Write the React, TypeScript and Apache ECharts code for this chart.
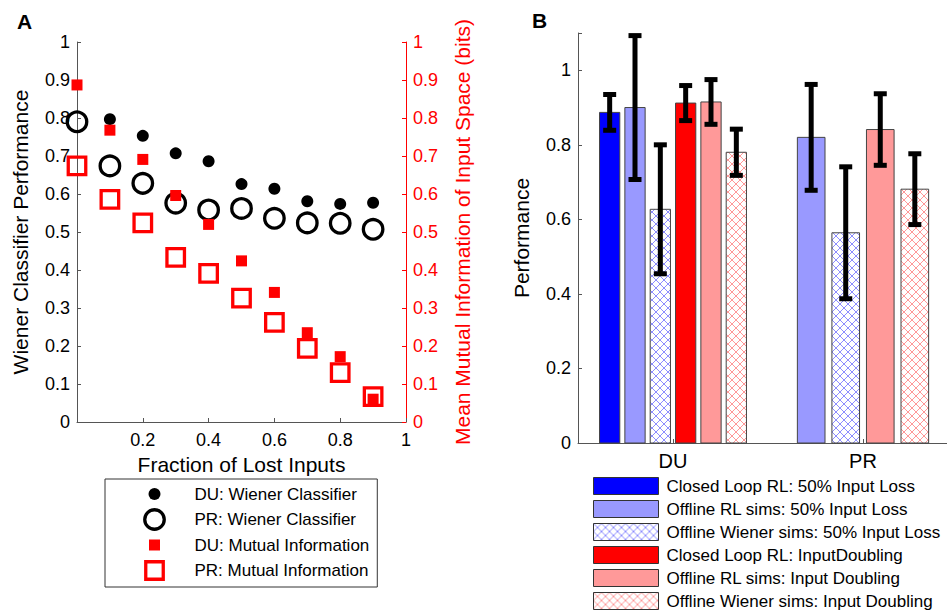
import React, { useEffect, useRef } from 'react';
import * as echarts from 'echarts';

// ---------- Panel A data ----------
const lostFraction = [0, 0.1, 0.2, 0.3, 0.4, 0.5, 0.6, 0.7, 0.8, 0.9];
const duWiener = [null, 0.797, 0.753, 0.707, 0.686, 0.626, 0.614, 0.581, 0.574, 0.577];
const prWiener = [0.79, 0.674, 0.628, 0.576, 0.558, 0.562, 0.536, 0.524, 0.523, 0.507];
const duMutualInfo = [0.887, 0.768, 0.691, 0.596, 0.52, 0.424, 0.341, 0.235, 0.172, 0.06];
const prMutualInfo = [0.674, 0.586, 0.524, 0.433, 0.391, 0.326, 0.262, 0.194, 0.13, 0.067];
const scatterNames = [
  'DU: Wiener Classifier',
  'PR: Wiener Classifier',
  'DU: Mutual Information',
  'PR: Mutual Information',
];

// ---------- Panel B data ----------
const groups = ['DU', 'PR'];
const barNames = [
  'Closed Loop RL: 50% Input Loss',
  'Offline RL sims: 50% Input Loss',
  'Offline Wiener sims: 50% Input Loss',
  'Closed Loop RL: InputDoubling',
  'Offline RL sims: Input Doubling',
  'Offline Wiener sims: Input Doubling',
];
const closedLoopLoss = [0.887, null];
const offlineRLLoss = [0.9, 0.82];
const offlineWienerLoss = [0.627, 0.564];
const closedLoopDoubling = [0.912, null];
const offlineRLDoubling = [0.915, 0.841];
const offlineWienerDoubling = [0.78, 0.681];
const closedLoopLossErr = [0.048, null];
const offlineRLLossErr = [0.193, 0.142];
const offlineWienerLossErr = [0.173, 0.177];
const closedLoopDoublingErr = [0.047, null];
const offlineRLDoublingErr = [0.06, 0.096];
const offlineWienerDoublingErr = [0.062, 0.095];

const barMeans = [closedLoopLoss, offlineRLLoss, offlineWienerLoss, closedLoopDoubling, offlineRLDoubling, offlineWienerDoubling];
const barErrs = [closedLoopLossErr, offlineRLLossErr, offlineWienerLossErr, closedLoopDoublingErr, offlineRLDoublingErr, offlineWienerDoublingErr];

const FONT = '"Liberation Sans", Arial, Helvetica, sans-serif';

function hatch(color: string) {
  const c = document.createElement('canvas');
  c.width = 8;
  c.height = 8;
  const ctx = c.getContext('2d')!;
  ctx.fillStyle = '#ffffff';
  ctx.fillRect(0, 0, 8, 8);
  ctx.strokeStyle = color;
  ctx.lineWidth = 0.7;
  ctx.beginPath();
  ctx.moveTo(0, 0);
  ctx.lineTo(8, 8);
  ctx.moveTo(8, 0);
  ctx.lineTo(0, 8);
  ctx.stroke();
  return { image: c, repeat: 'repeat', imageWidth: 8, imageHeight: 8 } as any;
}

export default function App() {
  const ref = useRef<HTMLDivElement>(null);

  useEffect(() => {
    if (!ref.current) return;
    const chart = echarts.init(ref.current, null, { renderer: 'svg' });

    const blueHatch = hatch('rgba(50,50,255,0.8)');
    const redHatch = hatch('rgba(255,70,70,0.8)');
    const barFills: any[] = ['#0000ff', '#9999ff', blueHatch, '#ff0000', '#ff9999', redHatch];

    const pairs = (ys: (number | null)[]) =>
      lostFraction.map((x, i) => [x, ys[i]]).filter((p) => p[1] != null);

    const makeRenderItem = (si: number) => (params: any, api: any) => {
      const cat = api.value(0);
      const mean = api.value(1);
      const err = api.value(2);
      const present = barMeans.map((m) => m[cat] != null);
      const n = present.filter(Boolean).length;
      let slot = 0;
      for (let j = 0; j < si; j++) if (present[j]) slot++;
      const band = api.size([1, 0])[0];
      const groupW = Math.min(0.8, n / (n + 1.5));
      const spacing = (groupW / n) * band;
      const barW = spacing * 0.8;
      const base = api.coord([cat, 0]);
      const cx = base[0] + (slot - (n - 1) / 2) * spacing;
      const yTop = api.coord([cat, mean])[1];
      const yHi = api.coord([cat, mean + err])[1];
      const yLo = api.coord([cat, mean - err])[1];
      return {
        type: 'group',
        children: [
          {
            type: 'rect',
            shape: { x: cx - barW / 2, y: yTop, width: barW, height: base[1] - yTop },
            style: { fill: barFills[si], stroke: '#444', lineWidth: 1 },
          },
          { type: 'rect', shape: { x: cx - 2.5, y: yHi, width: 5, height: yLo - yHi }, style: { fill: '#000' } },
          { type: 'rect', shape: { x: cx - 6.5, y: yHi - 2.5, width: 13, height: 5 }, style: { fill: '#000' } },
          { type: 'rect', shape: { x: cx - 6.5, y: yLo - 2.5, width: 13, height: 5 }, style: { fill: '#000' } },
        ],
      };
    };

    const barSeries = barNames.map((name, si) => ({
      type: 'custom',
      name,
      xAxisIndex: 1,
      yAxisIndex: 2,
      encode: { x: 0, y: 1 },
      itemStyle: { color: typeof barFills[si] === 'string' ? barFills[si] : '#fff' },
      renderItem: makeRenderItem(si),
      data: groups
        .map((g, ci) => [ci, barMeans[si][ci], barErrs[si][ci]])
        .filter((d) => d[1] != null),
    }));

    const axisColor = '#555';
    const fmt = (v: number) => String(+v.toFixed(2));

    const iconDot = 'path://M0,0M46,22M17,11A6,6,0,1,1,5,11A6,6,0,1,1,17,11Z';
    const iconRing = 'path://M0,0M46,22M20.75,11A9.75,9.75,0,1,1,1.25,11A9.75,9.75,0,1,1,20.75,11Z';
    const iconSq = 'path://M0,0M46,22M5.5,5.5L16.5,5.5L16.5,16.5L5.5,16.5Z';
    const iconOpenSq = 'path://M0,0M46,22M2.25,2.25L19.75,2.25L19.75,19.75L2.25,19.75Z';

    chart.setOption({
      animation: false,
      backgroundColor: '#ffffff',
      textStyle: { fontFamily: FONT, color: '#000' },
      title: [
        { text: 'A', left: 17, top: 11, padding: 0, textStyle: { fontFamily: FONT, fontSize: 21, fontWeight: 'bold', color: '#000' } },
        { text: 'B', left: 532, top: 10, padding: 0, textStyle: { fontFamily: FONT, fontSize: 21, fontWeight: 'bold', color: '#000' } },
      ],
      grid: [
        { left: 77, top: 42, width: 329, height: 380, outerBoundsMode: 'none', containLabel: false },
        { left: 578, top: 33, width: 380, height: 410, outerBoundsMode: 'none', containLabel: false },
      ],
      xAxis: [
        {
          type: 'value',
          gridIndex: 0,
          min: 0,
          max: 1,
          interval: 0.2,
          name: 'Fraction of Lost Inputs',
          nameLocation: 'middle',
          nameGap: 31,
          nameTextStyle: { fontSize: 21, color: '#000', fontFamily: FONT },
          axisLine: { show: true, lineStyle: { color: axisColor, width: 1 } },
          axisTick: { show: true, inside: true, length: 4, lineStyle: { color: axisColor } },
          axisLabel: { fontSize: 18, color: '#000', margin: 9, formatter: (v: number) => (v === 0 ? '' : fmt(v)) },
          splitLine: { show: false },
        },
        {
          type: 'category',
          gridIndex: 1,
          data: groups,
          axisLine: { show: true, lineStyle: { color: axisColor, width: 1 } },
          axisTick: { show: true, inside: true, alignWithLabel: true, length: 4, lineStyle: { color: axisColor } },
          axisLabel: { fontSize: 20, color: '#000', margin: 8 },
          splitLine: { show: false },
        },
      ],
      yAxis: [
        {
          type: 'value',
          gridIndex: 0,
          position: 'left',
          min: 0,
          max: 1,
          interval: 0.1,
          name: 'Wiener Classifier Performance',
          nameLocation: 'middle',
          nameGap: 46,
          nameRotate: 90,
          nameTextStyle: { fontSize: 21, color: '#000', fontFamily: FONT },
          axisLine: { show: true, lineStyle: { color: axisColor, width: 1 } },
          axisTick: { show: true, inside: true, length: 4, lineStyle: { color: axisColor } },
          axisLabel: { fontSize: 18, color: '#000', margin: 7, formatter: fmt },
          splitLine: { show: false },
        },
        {
          type: 'value',
          gridIndex: 0,
          position: 'right',
          min: 0,
          max: 1,
          interval: 0.1,
          name: 'Mean Mutual Information of Input Space (bits)',
          nameLocation: 'middle',
          nameGap: 46,
          nameRotate: 90,
          nameTextStyle: { fontSize: 21, color: '#ff0000', fontFamily: FONT },
          axisLine: { show: true, lineStyle: { color: '#ff0000', width: 1 } },
          axisTick: { show: true, inside: true, length: 4, lineStyle: { color: '#ff0000' } },
          axisLabel: { fontSize: 18, color: '#ff0000', margin: 7, formatter: fmt },
          splitLine: { show: false },
        },
        {
          type: 'value',
          gridIndex: 1,
          position: 'left',
          min: 0,
          max: 1.1,
          interval: 0.2,
          name: 'Performance',
          nameLocation: 'middle',
          nameGap: 46,
          nameRotate: 90,
          nameTextStyle: { fontSize: 21, color: '#000', fontFamily: FONT },
          axisLine: { show: true, lineStyle: { color: axisColor, width: 1 } },
          axisTick: { show: true, inside: true, length: 4, lineStyle: { color: axisColor } },
          axisLabel: { fontSize: 18, color: '#000', margin: 7, formatter: (v: number) => (v > 1.05 ? '' : fmt(v)) },
          splitLine: { show: false },
        },
      ],
      legend: [
        {
          orient: 'vertical',
          left: 105,
          top: 479,
          height: 200,
          padding: [4, 8, 3, 36],
          itemGap: 1,
          itemWidth: 46,
          itemHeight: 22,
          borderColor: '#333',
          borderWidth: 1,
          selectedMode: false,
          textStyle: { fontSize: 17, color: '#000', fontFamily: FONT },
          data: [
            { name: scatterNames[0], icon: iconDot, itemStyle: { color: '#000', borderWidth: 0 } },
            { name: scatterNames[1], icon: iconRing, itemStyle: { color: 'none', borderColor: '#000', borderWidth: 3.3 } },
            { name: scatterNames[2], icon: iconSq, itemStyle: { color: '#ff0000', borderWidth: 0 } },
            { name: scatterNames[3], icon: iconOpenSq, itemStyle: { color: 'none', borderColor: '#ff0000', borderWidth: 3.3 } },
          ],
        },
        {
          orient: 'vertical',
          left: 593,
          top: 477,
          height: 200,
          padding: 0,
          itemGap: 5,
          itemWidth: 65,
          itemHeight: 17,
          selectedMode: false,
          textStyle: { fontSize: 17, lineHeight: 17, color: '#000', fontFamily: FONT, padding: [0, 0, 0, 3] },
          data: barNames.map((name, i) => ({
            name,
            icon: 'rect',
            itemStyle: { color: barFills[i], borderColor: '#333', borderWidth: 1 },
          })),
        },
      ],
      series: [
        {
          type: 'scatter',
          name: scatterNames[0],
          xAxisIndex: 0,
          yAxisIndex: 0,
          symbol: 'circle',
          symbolSize: 12,
          itemStyle: { color: '#000', opacity: 1 },
          data: pairs(duWiener),
        },
        {
          type: 'scatter',
          name: scatterNames[1],
          xAxisIndex: 0,
          yAxisIndex: 0,
          symbol: 'circle',
          symbolSize: 19.5,
          itemStyle: { color: 'none', borderColor: '#000', borderWidth: 3.3, opacity: 1 },
          data: pairs(prWiener),
        },
        {
          type: 'scatter',
          name: scatterNames[2],
          xAxisIndex: 0,
          yAxisIndex: 1,
          symbol: 'rect',
          symbolSize: 11,
          itemStyle: { color: '#ff0000', opacity: 1 },
          data: pairs(duMutualInfo),
        },
        {
          type: 'scatter',
          name: scatterNames[3],
          xAxisIndex: 0,
          yAxisIndex: 1,
          symbol: 'rect',
          symbolSize: 17.5,
          itemStyle: { color: 'none', borderColor: '#ff0000', borderWidth: 3.3, opacity: 1 },
          data: pairs(prMutualInfo),
        },
        ...barSeries,
      ],
    } as any);

    return () => chart.dispose();
  }, []);

  return (
    <div
      ref={ref}
      style={{ position: 'fixed', left: 0, top: 0, width: 947, height: 611, background: '#fff' }}
    />
  );
}
